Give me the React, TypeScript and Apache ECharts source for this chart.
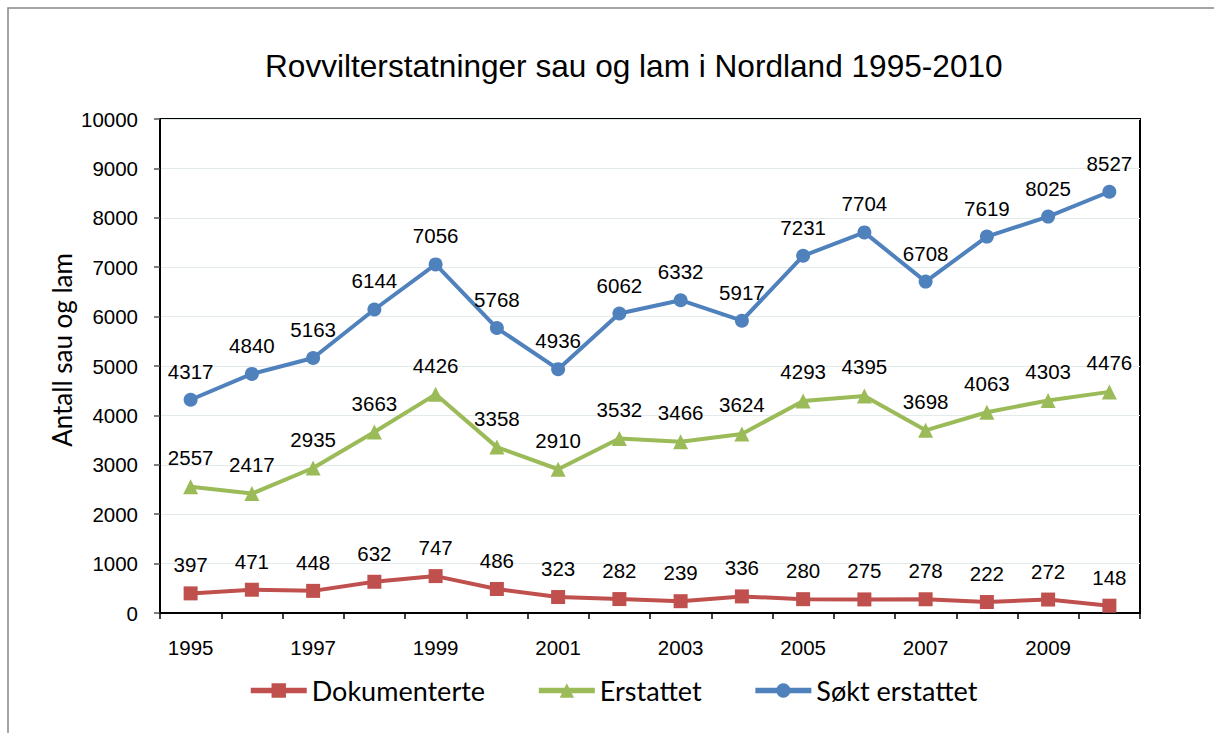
import React, { useEffect, useRef } from "react";
import * as echarts from "echarts";

const years = ["1995","1996","1997","1998","1999","2000","2001","2002","2003","2004","2005","2006","2007","2008","2009","2010"];
const dokumenterte = [397,471,448,632,747,486,323,282,239,336,280,275,278,222,272,148];
const erstattet = [2557,2417,2935,3663,4426,3358,2910,3532,3466,3624,4293,4395,3698,4063,4303,4476];
const soktErstattet = [4317,4840,5163,6144,7056,5768,4936,6062,6332,5917,7231,7704,6708,7619,8025,8527];

const titleText = "Rovvilterstatninger sau og lam i Nordland 1995-2010";
const yTitle = "Antall sau og lam";

const ARIAL = "'Liberation Sans', Arial, sans-serif";
const CALIBRI = "Lato, 'Open Sans', sans-serif";

export default function App() {
  const ref = useRef<HTMLDivElement>(null);
  useEffect(() => {
    if (!ref.current) return;
    const chart = echarts.init(ref.current, null, { renderer: "svg" });
    const label = {
      show: true,
      position: "top" as const,
      distance: 11,
      color: "#000",
      fontSize: 20.5,
      fontFamily: ARIAL,
    };
    const mk = (name: string, data: number[], color: string, symbol: string, size: number) => ({
      name,
      type: "line",
      data,
      symbol,
      symbolSize: size,
      lineStyle: { color, width: 4 },
      itemStyle: { color },
      label,
    });
    chart.setOption({
      animation: false,
      backgroundColor: "#fff",
      title: {
        text: titleText,
        left: 260,
        top: 45,
        textStyle: { fontFamily: ARIAL, fontSize: 31.6, fontWeight: "normal", color: "#000" },
      },
      graphic: [
        {
          type: "rect",
          shape: { x: 8, y: 8, width: 1400, height: 1000 },
          style: { fill: "none", stroke: "#868686", lineWidth: 1.5 },
          silent: true,
        },
        {
          type: "text",
          x: 62,
          y: 350,
          rotation: Math.PI / 2,
          style: {
            text: yTitle,
            fill: "#000",
            fontFamily: CALIBRI,
            fontSize: 26,
            textAlign: "center",
            textVerticalAlign: "middle",
          },
          silent: true,
        },
      ],
      legend: {
        left: 243,
        top: 672,
        itemWidth: 56,
        itemHeight: 18,
        itemGap: 51,
        lineStyle: { width: 5.5 },
        textStyle: { fontFamily: CALIBRI, fontSize: 27, color: "#000" },
        data: ["Dokumenterte", "Erstattet", "Søkt erstattet"],
      },
      grid: {
        left: 160,
        right: 74,
        top: 119,
        bottom: 120,
        show: true,
        borderColor: "#000",
        borderWidth: 2,
        containLabel: false,
      },
      xAxis: {
        type: "category",
        data: years,
        boundaryGap: true,
        axisLine: { lineStyle: { color: "#000", width: 2 } },
        axisTick: { show: true, interval: 0, length: 6, inside: false, lineStyle: { color: "#000", width: 1.5 } },
        axisLabel: { interval: 1, margin: 24, color: "#000", fontSize: 20.5, fontFamily: ARIAL },
      },
      yAxis: {
        type: "value",
        min: 0,
        max: 10000,
        interval: 1000,
        axisLine: { show: true, lineStyle: { color: "#000", width: 2 } },
        axisTick: { show: true, length: 6, lineStyle: { color: "#555", width: 1.5 } },
        axisLabel: {
          margin: 22,
          color: "#000",
          fontSize: 20.5,
          fontFamily: ARIAL,
          formatter: (v: number) => String(v),
        },
        splitLine: { show: true, lineStyle: { color: "#e3eaea", width: 1 } },
      },
      series: [
        mk("Dokumenterte", dokumenterte, "#C0504D", "rect", 14),
        mk("Erstattet", erstattet, "#9BBB59", "triangle", 15),
        mk("Søkt erstattet", soktErstattet, "#4F81BD", "circle", 14),
      ],
    });
    return () => chart.dispose();
  }, []);
  return (
    <div
      ref={ref}
      style={{ position: "fixed", left: 0, top: 0, width: 1214, height: 733 }}
    />
  );
}
